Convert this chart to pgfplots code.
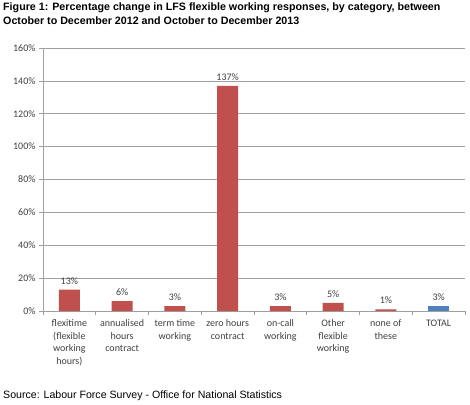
\documentclass[border=0pt]{standalone}
\usepackage{pgfplots}
\pgfplotsset{compat=1.18}
\usepackage{fontspec}
\setmainfont{Liberation Sans}
\newfontfamily\calib{Carlito}
\definecolor{barred}{HTML}{C0504D}
\definecolor{barblue}{HTML}{4F81BD}
\definecolor{gridgray}{HTML}{A0A0A0}
\definecolor{txtgray}{HTML}{404040}
\begin{document}
\begin{tikzpicture}
\path[use as bounding box] (0pt,0pt) rectangle (470pt,404pt);
\node[anchor=north west,align=left,font=\bfseries\fontsize{10.7}{14}\selectfont,inner sep=0pt] at (3pt,401pt)
{Figure 1: Percentage change in LFS flexible working responses, by category, between\\October to December 2012 and October to December 2013};
\node[anchor=west,font=\fontsize{10.6}{12}\selectfont,inner sep=0pt] at (3pt,8pt) {Source: Labour Force Survey - Office for National Statistics};
\begin{axis}[
  at={(43pt,93pt)}, anchor=south west,
  scale only axis, width=422pt, height=263pt,
  ymin=0, ymax=160, xmin=-0.5, xmax=7.5,
  ytick={0,20,...,160},
  yticklabel={\pgfmathprintnumber{\tick}\%},
  ymajorgrids, grid style={gridgray, line width=0.6pt},
  axis x line*=bottom, axis y line*=left,
  axis line style={gridgray, line width=0.6pt, -},
  xtick={0,...,7},
  xticklabels={{flexitime\\(flexible\\working\\hours)},{annualised\\hours\\contract},{term time\\working},{zero hours\\contract},{on-call\\working},{Other\\flexible\\working},{none of\\these},{TOTAL}},
  xticklabel style={align=center, font=\calib\fontsize{10}{12.7}\selectfont, text=txtgray, yshift=-1pt},
  yticklabel style={font=\calib\fontsize{10}{12}\selectfont, text=txtgray},
  major x tick style={draw=none},
  minor xtick={-0.5,0.5,...,7.5},
  tick style={gridgray, line width=0.6pt},
  tick align=outside, major tick length=4pt, minor tick length=4pt,
  /pgf/number format/assume math mode=true,
  ybar, bar width=21pt,
  nodes near coords={\pgfmathprintnumber{\pgfplotspointmeta}\%},
  every node near coord/.append style={font=\calib\fontsize{10}{12}\selectfont, text=txtgray, yshift=2pt},
]
\addplot[fill=barred, draw=none, bar shift=0pt] coordinates {(0,13) (1,6) (2,3) (3,137) (4,3) (5,5) (6,1)};
\addplot[fill=barblue, draw=none, bar shift=0pt] coordinates {(7,3)};
\end{axis}
\end{tikzpicture}
\end{document}
